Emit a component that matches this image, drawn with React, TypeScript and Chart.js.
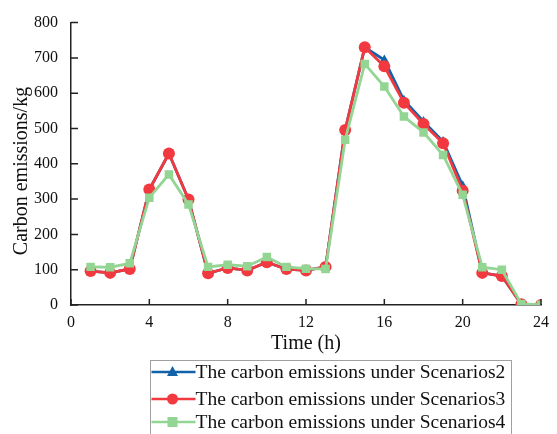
import React, { useEffect, useRef } from "react";
import { Chart, registerables } from "chart.js";

Chart.register(...registerables);

const hours = [1, 2, 3, 4, 5, 6, 7, 8, 9, 10, 11, 12, 13, 14, 15, 16, 17, 18, 19, 20, 21, 22, 23, 24];
const scenario2 = [96, 91, 102, 327, 429, 299, 90, 105, 98, 121, 102, 98, 108, 496, 730, 694, 580, 520, 463, 338, 91, 82, 2, 0];
const scenario3 = [96, 91, 102, 327, 429, 299, 90, 105, 98, 121, 102, 98, 108, 496, 730, 676, 573, 513, 458, 324, 91, 82, 2, 0];
const scenario4 = [108, 107, 118, 304, 370, 285, 108, 114, 110, 136, 108, 103, 102, 468, 683, 619, 534, 489, 425, 312, 107, 100, 3, 1];
const labels = [
  "The carbon emissions under Scenarios2",
  "The carbon emissions under Scenarios3",
  "The carbon emissions under Scenarios4",
];
const yTitle = "Carbon emissions/kg";
const xTitle = "Time (h)";
const colors = ["#1262aa", "#f2393f", "#93d694"];
const styles = ["triangle", "circle", "rect"];
const xTicks = [0, 4, 8, 12, 16, 20, 24];
const yTicks = [0, 100, 200, 300, 400, 500, 600, 700, 800];

const FONT = "'Liberation Serif', 'Times New Roman', serif";

const inwardTicks = {
  id: "inwardTicks",
  afterDraw(chart: any) {
    const ctx = chart.ctx;
    const xs = chart.scales.x;
    const ys = chart.scales.y;
    const area = chart.chartArea;
    ctx.save();
    ctx.strokeStyle = "#222";
    ctx.lineWidth = 1.5;
    ctx.beginPath();
    xTicks.forEach((t) => {
      const px = xs.getPixelForValue(t);
      ctx.moveTo(px, area.bottom);
      ctx.lineTo(px, area.bottom - 6);
    });
    yTicks.forEach((t) => {
      const py = ys.getPixelForValue(t);
      ctx.moveTo(area.left, py);
      ctx.lineTo(area.left + 7, py);
    });
    ctx.stroke();
    // y axis title
    ctx.fillStyle = "#111";
    ctx.font = `20px ${FONT}`;
    ctx.textAlign = "center";
    ctx.textBaseline = "middle";
    ctx.translate(22, 171);
    ctx.rotate(-Math.PI / 2);
    ctx.fillText(yTitle, 0, 0);
    ctx.restore();
  },
};

const boxLegend = {
  id: "boxLegend",
  afterDraw(chart: any) {
    const ctx = chart.ctx;
    const left = 150.5;
    const top = 360.5;
    ctx.save();
    ctx.strokeStyle = "#a0a0a0";
    ctx.lineWidth = 1;
    ctx.strokeRect(left, top, 361, 90);
    const rows = [372, 399, 422];
    chart.data.datasets.forEach((ds: any, i: number) => {
      const y = rows[i];
      ctx.strokeStyle = ds.borderColor;
      ctx.lineWidth = 2.5;
      ctx.beginPath();
      ctx.moveTo(left + 1, y);
      ctx.lineTo(left + 45, y);
      ctx.stroke();
      ctx.fillStyle = ds.borderColor;
      const cx = left + 22;
      if (ds.pointStyle === "triangle") {
        ctx.beginPath();
        ctx.moveTo(cx, y - 6);
        ctx.lineTo(cx + 5.5, y + 4);
        ctx.lineTo(cx - 5.5, y + 4);
        ctx.closePath();
        ctx.fill();
      } else if (ds.pointStyle === "circle") {
        ctx.beginPath();
        ctx.arc(cx, y, 5.5, 0, Math.PI * 2);
        ctx.fill();
      } else {
        ctx.fillRect(cx - 5, y - 5, 10, 10);
      }
      ctx.fillStyle = "#111";
      ctx.font = `19.5px ${FONT}`;
      ctx.textBaseline = "middle";
      ctx.textAlign = "left";
      ctx.fillText(ds.label, left + 45, y + 1);
    });
    ctx.restore();
  },
};

export default function App() {
  const ref = useRef<HTMLCanvasElement>(null);
  useEffect(() => {
    document.body.style.margin = "0";
    const series = [scenario2, scenario3, scenario4];
    const chart = new Chart(ref.current!, {
      type: "line",
      data: {
        datasets: series.map((s, i) => ({
          label: labels[i],
          data: s.map((v, j) => ({ x: hours[j], y: v })),
          borderColor: colors[i],
          backgroundColor: colors[i],
          pointStyle: styles[i] as any,
          pointRadius: i === 0 ? 5.5 : 6,
          pointBorderWidth: 0,
          borderWidth: 2.8,
          order: 3 - i,
          tension: 0,
        })),
      },
      options: {
        responsive: false,
        animation: false,
        layout: { padding: { top: 13, right: 16, bottom: 74, left: 0 } },
        plugins: { legend: { display: false }, tooltip: { enabled: false } },
        scales: {
          x: {
            type: "linear",
            min: 0,
            max: 24,
            afterBuildTicks: (s: any) => {
              s.ticks = xTicks.map((v) => ({ value: v }));
            },
            afterFit: (s: any) => {
              s.height = 55;
            },
            grid: { display: false, drawTicks: false },
            border: { display: true, color: "#222", width: 1.5 },
            ticks: { color: "#111", font: { family: FONT, size: 16 }, padding: 8, maxRotation: 0 },
            title: { display: true, text: xTitle, color: "#111", font: { family: FONT, size: 20 }, padding: { top: 5 } },
          },
          y: {
            min: 0,
            max: 800,
            afterBuildTicks: (s: any) => {
              s.ticks = yTicks.map((v) => ({ value: v }));
            },
            afterFit: (s: any) => {
              s.width = 71;
            },
            grid: { display: false, drawTicks: false },
            border: { display: true, color: "#222", width: 1.5 },
            ticks: { color: "#111", font: { family: FONT, size: 16 }, padding: 13 },
            title: { display: false },
          },
        },
      },
      plugins: [inwardTicks, boxLegend],
    });
    return () => chart.destroy();
  }, []);
  return (
    <div style={{ width: 557, height: 434, background: "#fff" }}>
      <canvas ref={ref} width={557} height={434} />
    </div>
  );
}
